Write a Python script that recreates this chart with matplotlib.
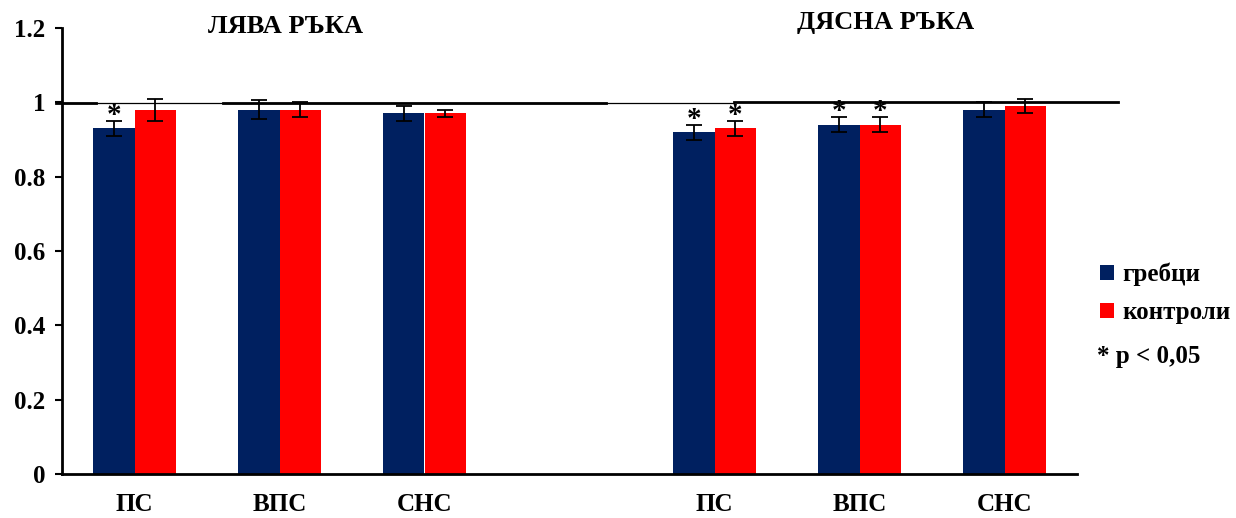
import matplotlib
matplotlib.use("Agg")
import matplotlib.pyplot as plt
import numpy as np

# ---- data ----
categories = ["ПС", "ВПС", "СНС"]
panel_titles = ["ЛЯВА РЪКА", "ДЯСНА РЪКА"]
series_names = ["гребци", "контроли"]

left_rowers = [0.93, 0.98, 0.97]
left_rowers_err = [0.02, 0.025, 0.02]
left_controls = [0.98, 0.98, 0.97]
left_controls_err = [0.03, 0.02, 0.01]

right_rowers = [0.92, 0.94, 0.98]
right_rowers_err = [0.02, 0.02, 0.02]
right_controls = [0.93, 0.94, 0.99]
right_controls_err = [0.02, 0.02, 0.02]

sig_rowers = [True, False, False, True, True, False]
sig_controls = [False, False, False, True, True, False]

yticks = [0, 0.2, 0.4, 0.6, 0.8, 1.0, 1.2]
ytick_labels = ["0", "0.2", "0.4", "0.6", "0.8", "1", "1.2"]

# ---- style ----
NAVY = "#002060"
RED = "#FF0000"
FONT = "Liberation Serif"
plt.rcParams["font.family"] = [FONT, "DejaVu Serif"]
plt.rcParams["font.weight"] = "bold"

fig = plt.figure(figsize=(12.36, 5.18), dpi=100)
ax = fig.add_axes([62 / 1236, 1 - 474 / 518, (1077 - 62) / 1236, (474 - 28) / 518])

pos = np.array([0, 1, 2, 4, 5, 6], dtype=float)
w = 0.285
rowers = left_rowers + right_rowers
rowers_err = left_rowers_err + right_rowers_err
controls = left_controls + right_controls
controls_err = left_controls_err + right_controls_err

ekw = dict(ecolor="black", elinewidth=1.3, capsize=6, capthick=1.3)
ax.bar(pos - w / 2, rowers, w, color=NAVY, yerr=rowers_err, error_kw=ekw,
       label=series_names[0], zorder=2)
ax.bar(pos + w / 2, controls, w, color=RED, yerr=controls_err, error_kw=ekw,
       label=series_names[1], zorder=2)

# significance asterisks
for x, v, e, s in zip(pos - w / 2, rowers, rowers_err, sig_rowers):
    if s:
        ax.text(x, v + e - 0.022, "*", ha="center", va="bottom", fontsize=21,
                fontweight="bold", zorder=4)
for x, v, e, s in zip(pos + w / 2, controls, controls_err, sig_controls):
    if s:
        ax.text(x, v + e - 0.022, "*", ha="center", va="bottom", fontsize=21,
                fontweight="bold", zorder=4)

# reference lines at 1
ax.plot([-0.544, 4.136], [0.997, 0.997], color="black", lw=0.9, clip_on=False, zorder=3)
ax.plot([-0.544, -0.268], [0.998, 0.998], color="black", lw=2.0, clip_on=False, zorder=3)
ax.plot([0.613, 3.255], [0.999, 0.999], color="black", lw=2.0, clip_on=False, zorder=3)
ax.plot([4.136, 6.78], [1.002, 1.002], color="black", lw=2.0, clip_on=False, zorder=3)

ax.set_xlim(-0.5, 6.5)
ax.set_ylim(0, 1.2)
ax.set_yticks(yticks)
ax.set_yticklabels(ytick_labels, fontsize=18, fontweight="bold")
ax.set_xticks(pos)
ax.set_xticklabels(categories * 2, fontsize=18, fontweight="bold")
ax.tick_params(axis="x", length=0, pad=14)
ax.tick_params(axis="y", length=5, width=1.5, direction="out", pad=7)
for s in ["top", "right"]:
    ax.spines[s].set_visible(False)
ax.spines["left"].set_linewidth(2)
ax.spines["bottom"].set_linewidth(2)

# panel titles
ax.text(1.04, 1.205, panel_titles[0], ha="center", va="center", fontsize=19, fontweight="bold")
ax.text(5.18, 1.215, panel_titles[1], ha="center", va="center", fontsize=19, fontweight="bold")

# legend
leg = fig.legend(loc="upper left", bbox_to_anchor=(1090 / 1236, 1 - 253 / 518), frameon=False,
                 prop={"family": FONT, "weight": "bold", "size": 18},
                 handlelength=0.55, handleheight=0.55, handletextpad=0.35, labelspacing=0.6,
                 borderaxespad=0)
fig.text(1097 / 1236, 1 - 356 / 518, "* p < 0,05", ha="left", va="center", fontsize=18,
         fontweight="bold")

fig.savefig("out.png", dpi=100)
